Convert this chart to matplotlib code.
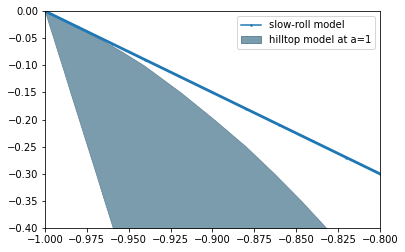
import matplotlib
matplotlib.use("Agg")
import matplotlib.pyplot as plt
from matplotlib.lines import Line2D
from matplotlib.patches import Patch

# slow-roll model
sr_x = [-1.0, -0.98, -0.96, -0.94, -0.92, -0.90, -0.88, -0.86, -0.84, -0.82, -0.80]
sr_y = [0.0, -0.03, -0.06, -0.09, -0.12, -0.15, -0.18, -0.21, -0.24, -0.27, -0.30]

# hilltop model band boundaries
ht_y = [0.0, -0.025, -0.05, -0.075, -0.10, -0.15, -0.20, -0.25, -0.30, -0.35, -0.40, -0.45]
ht_x_left = [-1.0, -0.9975, -0.9949, -0.9924, -0.9898, -0.9848, -0.9797, -0.9746, -0.9695, -0.9645, -0.9594, -0.9543]
ht_x_right = [-1.0, -0.9835, -0.968, -0.954, -0.941, -0.919, -0.899, -0.880, -0.863, -0.847, -0.832, -0.816]

fig = plt.figure(figsize=(405/72, 252/72), dpi=72)
ax = fig.add_axes([0.111, 0.095, 0.827, 0.861])

ax.fill_betweenx(ht_y, ht_x_left, ht_x_right, facecolor='#7b9cac', edgecolor='#67879a', lw=0.8)
ax.plot(sr_x, sr_y, color='#1f77b4', lw=2.8, marker='.', ms=2.5)

ax.set_xlim(-1.0, -0.8)
ax.set_ylim(-0.4, 0.0)

handles = [Line2D([], [], color='#1f77b4', lw=1.5, marker='.', ms=3),
           Patch(facecolor='#7b9cac', edgecolor='#67879a')]
ax.legend(handles, ['slow-roll model', 'hilltop model at a=1'], loc='upper right')

fig.savefig('out.png', dpi=72)
